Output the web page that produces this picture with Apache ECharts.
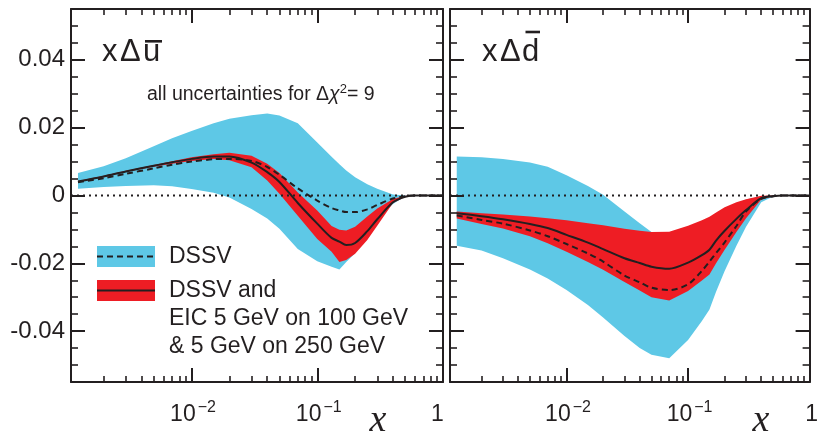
<!DOCTYPE html>
<html>
<head>
<meta charset="utf-8">
<script src="https://cdn.jsdelivr.net/npm/echarts@6/dist/echarts.min.js"></script>
<style>
  html, body { margin: 0; padding: 0; background: #ffffff; }
  #chart { width: 821px; height: 435px; }
</style>
</head>
<body>
<div id="chart"></div>
<script>
// Momentum fraction grid shared by every curve and band
const xGrid = [0.00125, 0.002, 0.003, 0.005, 0.007, 0.01, 0.015, 0.02, 0.03, 0.04, 0.05, 0.07,
               0.1, 0.13, 0.15, 0.17, 0.2, 0.25, 0.3, 0.4, 0.5, 0.6, 0.8, 1];

// x*Delta(u-bar): DSSV band + central value (dashed)
const ubarDssvHi = [0.0066, 0.0086, 0.0110, 0.0145, 0.0169, 0.0190, 0.0213, 0.0226, 0.0237, 0.0242, 0.0236, 0.0213,
                    0.0156, 0.0114, 0.0092, 0.0074, 0.0054, 0.0033, 0.0020, 0.0003, 0, 0, 0, 0];
const ubarDssvLo = [0.0020, 0.0025, 0.0028, 0.0030, 0.0027, 0.0019, 0.0008, -0.0006, -0.0040, -0.0068, -0.0098, -0.0158,
                    -0.0194, -0.0210, -0.0218, -0.0196, -0.0170, -0.0113, -0.0073, -0.0025, -0.0003, 0, 0, 0];
const ubarDssv   = [0.0039, 0.0051, 0.0064, 0.0080, 0.0091, 0.0100, 0.0107, 0.0108, 0.0102, 0.0084, 0.0061, 0.0021,
                    -0.0015, -0.0037, -0.0044, -0.0049, -0.0049, -0.0041, -0.0028, -0.0009, -0.0002, 0, 0, 0];
// x*Delta(u-bar): DSSV + EIC band + central value (solid)
const ubarEicHi  = [0.0043, 0.0058, 0.0073, 0.0090, 0.0101, 0.0113, 0.0122, 0.0126, 0.0117, 0.0094, 0.0066, 0.0009,
                    -0.0044, -0.0090, -0.0101, -0.0103, -0.0092, -0.0062, -0.0038, -0.0010, -0.0001, 0, 0, 0];
const ubarEicLo  = [0.0039, 0.0054, 0.0069, 0.0085, 0.0094, 0.0102, 0.0108, 0.0104, 0.0083, 0.0044, 0.0005, -0.0060,
                    -0.0128, -0.0166, -0.0196, -0.0190, -0.0172, -0.0131, -0.0089, -0.0022, -0.0004, 0, 0, 0];
const ubarEic    = [0.0041, 0.0056, 0.0071, 0.0088, 0.0098, 0.0108, 0.0115, 0.0115, 0.0097, 0.0069, 0.0040, -0.0022,
                    -0.0083, -0.0125, -0.0136, -0.0146, -0.0140, -0.0105, -0.0070, -0.0020, -0.0004, 0, 0, 0];

// x*Delta(d-bar): DSSV band + central value (dashed)
const dbarDssvHi = [0.0115, 0.0113, 0.0108, 0.0097, 0.0085, 0.0060, 0.0028, 0.0002, -0.0047, -0.0082, -0.0108, -0.0118,
                    -0.0100, -0.0085, -0.0075, -0.0062, -0.0045, -0.0024, -0.0012, -0.0002, 0, 0, 0, 0];
const dbarDssvLo = [-0.0148, -0.0162, -0.0185, -0.0218, -0.0245, -0.0279, -0.0323, -0.0360, -0.0414, -0.0450, -0.0470, -0.0480,
                    -0.0426, -0.0370, -0.0336, -0.0284, -0.0223, -0.0148, -0.0092, -0.0020, -0.0003, 0, 0, 0];
const dbarDssv   = [-0.0059, -0.0072, -0.0083, -0.0103, -0.0120, -0.0143, -0.0171, -0.0195, -0.0236, -0.0256, -0.0272, -0.0279,
                    -0.0262, -0.0222, -0.0195, -0.0170, -0.0138, -0.0090, -0.0047, -0.0010, -0.0002, 0, 0, 0];
// x*Delta(d-bar): DSSV + EIC band + central value (solid)
const dbarEicHi  = [-0.0047, -0.0052, -0.0056, -0.0062, -0.0067, -0.0073, -0.0082, -0.0088, -0.0098, -0.0104, -0.0108, -0.0107,
                    -0.0089, -0.0073, -0.0063, -0.0050, -0.0035, -0.0020, -0.0011, -0.0001, 0, 0, 0, 0];
const dbarEicLo  = [-0.0068, -0.0084, -0.0097, -0.0120, -0.0141, -0.0166, -0.0196, -0.0219, -0.0255, -0.0280, -0.0300, -0.0310,
                    -0.0282, -0.0251, -0.0233, -0.0200, -0.0160, -0.0108, -0.0067, -0.0012, -0.0002, 0, 0, 0];
const dbarEic    = [-0.0052, -0.0061, -0.0070, -0.0084, -0.0096, -0.0116, -0.0139, -0.0158, -0.0185, -0.0199, -0.0210, -0.0216,
                    -0.0198, -0.0176, -0.0160, -0.0133, -0.0104, -0.0069, -0.0043, -0.0008, -0.0002, 0, 0, 0];

// Axis ticks and labels
const X_MIN = 0.0011;
const xMajorTicks = [0.01, 0.1, 1];
const xMinorTicks = [0.002, 0.003, 0.004, 0.005, 0.006, 0.007, 0.008, 0.009,
                     0.02, 0.03, 0.04, 0.05, 0.06, 0.07, 0.08, 0.09,
                     0.2, 0.3, 0.4, 0.5, 0.6, 0.7, 0.8, 0.9];
const yMajorTicks = [-0.04, -0.02, 0, 0.02, 0.04];
const yMinorTicks = [-0.05, -0.045, -0.035, -0.03, -0.025, -0.015, -0.01, -0.005,
                     0.005, 0.01, 0.015, 0.025, 0.03, 0.035, 0.045, 0.05];
const Y_MIN = -0.055, Y_MAX = 0.055;

const BLUE = '#5ec8e6';
const RED = '#ee1d24';
const INK = '#231f20';
const SANS = '"Liberation Sans", Arial, Helvetica, sans-serif';
const SERIF = '"Liberation Serif", "Times New Roman", serif';

function xLabelFormatter(v) {
  if (Math.abs(v - 1) < 1e-9) return '{one|1}';
  const e = Math.round(Math.log10(v));
  return '{b|10}{s|\u2212' + (-e) + '}';
}

function xAxesFor(gi) {
  const base = { type: 'log', logBase: 10, gridIndex: gi, min: X_MIN, max: 1, z: 10,
                 splitLine: { show: false }, minorTick: { show: false } };
  const line = { show: true, onZero: false, lineStyle: { color: INK, width: 2 } };
  const major = { show: true, inside: true, length: 14, customValues: xMajorTicks, lineStyle: { color: INK, width: 2 } };
  const minor = { show: true, inside: true, length: 6, customValues: xMinorTicks, lineStyle: { color: INK, width: 1.6 } };
  return [
    Object.assign({}, base, {
      position: 'bottom', axisLine: line, axisTick: major,
      axisLabel: {
        show: true, customValues: xMajorTicks, margin: 18, formatter: xLabelFormatter,
        rich: {
          b: { fontSize: 23, lineHeight: 26, verticalAlign: 'bottom', fontFamily: SANS, color: INK, padding: [0, 0, 0, 3] },
          s: { fontSize: 16, lineHeight: 16, verticalAlign: 'top', fontFamily: SANS, color: INK, padding: [0, 0, 0, 2] },
          one: { fontSize: 23, lineHeight: 26, verticalAlign: 'bottom', fontFamily: SANS, color: INK,
                 padding: gi === 0 ? [0, 11, 0, 0] : [0, 0, 0, 4] }
        }
      }
    }),
    Object.assign({}, base, { position: 'bottom', axisLine: { show: false, onZero: false }, axisTick: minor, axisLabel: { show: false } }),
    Object.assign({}, base, { position: 'top', axisLine: line, axisTick: major, axisLabel: { show: false } }),
    Object.assign({}, base, { position: 'top', axisLine: { show: false, onZero: false }, axisTick: minor, axisLabel: { show: false } })
  ];
}

function yAxesFor(gi, withLabels) {
  const base = { type: 'value', gridIndex: gi, min: Y_MIN, max: Y_MAX, z: 10, splitLine: { show: false } };
  const line = { show: true, onZero: false, lineStyle: { color: INK, width: 2 } };
  const major = { show: true, inside: true, length: 14, customValues: yMajorTicks, lineStyle: { color: INK, width: 2 } };
  const minor = { show: true, inside: true, length: 7, customValues: yMinorTicks, lineStyle: { color: INK, width: 1.6 } };
  return [
    Object.assign({}, base, {
      position: 'left', axisLine: line, axisTick: major,
      axisLabel: withLabels ? {
        show: true, customValues: yMajorTicks, margin: 6, fontSize: 24, fontFamily: SANS, color: INK,
        formatter: v => (Math.abs(v) < 1e-12 ? '0' : v.toFixed(2))
      } : { show: false }
    }),
    Object.assign({}, base, { position: 'left', axisLine: { show: false, onZero: false }, axisTick: minor, axisLabel: { show: false } }),
    Object.assign({}, base, { position: 'right', axisLine: line, axisTick: major, axisLabel: { show: false } }),
    Object.assign({}, base, { position: 'right', axisLine: { show: false, onZero: false }, axisTick: minor, axisLabel: { show: false } })
  ];
}

// Uncertainty band: polygon through the upper edge, back along the lower edge
function bandSeries(gi, lo, hi, color, z) {
  return {
    type: 'custom', xAxisIndex: gi * 4, yAxisIndex: gi * 4, z: z, silent: true, animation: false,
    data: xGrid.map((x, i) => [x, lo[i], hi[i]]),
    encode: { x: 0, y: [1, 2] },
    renderItem: function (params, api) {
      if (params.dataIndex !== 0) return null;
      const pts = [];
      for (let i = 0; i < xGrid.length; i++) pts.push(api.coord([xGrid[i], hi[i]]));
      for (let i = xGrid.length - 1; i >= 0; i--) pts.push(api.coord([xGrid[i], lo[i]]));
      return { type: 'polygon', shape: { points: pts }, style: { fill: color } };
    }
  };
}

function curveSeries(gi, ys, dashed, z) {
  return {
    type: 'line', xAxisIndex: gi * 4, yAxisIndex: gi * 4, z: z, silent: true, animation: false,
    data: xGrid.map((x, i) => [x, ys[i]]),
    showSymbol: false, symbol: 'none', smooth: 0.3,
    lineStyle: { color: INK, width: 2, type: dashed ? [6, 4] : 'solid' }
  };
}

function zeroSeries(gi) {
  return {
    type: 'line', xAxisIndex: gi * 4, yAxisIndex: gi * 4, z: 6, silent: true, animation: false,
    data: [[X_MIN, 0], [1, 0]], showSymbol: false, symbol: 'none',
    lineStyle: { color: INK, width: 2, type: [2, 4] }
  };
}

const chart = echarts.init(document.getElementById('chart'), null, { renderer: 'canvas' });

const TITLE_FONT = '31px ' + SANS;

const option = {
  animation: false,
  backgroundColor: '#ffffff',
  grid: [
    { left: 71, top: 9, width: 372, height: 373 },
    { left: 450, top: 9, width: 370, height: 373 }
  ],
  xAxis: xAxesFor(0).concat(xAxesFor(1)),
  yAxis: yAxesFor(0, true).concat(yAxesFor(1, false)),
  series: [
    bandSeries(0, ubarDssvLo, ubarDssvHi, BLUE, 1),
    bandSeries(0, ubarEicLo, ubarEicHi, RED, 2),
    curveSeries(0, ubarDssv, true, 3),
    curveSeries(0, ubarEic, false, 4),
    zeroSeries(0),
    bandSeries(1, dbarDssvLo, dbarDssvHi, BLUE, 1),
    bandSeries(1, dbarEicLo, dbarEicHi, RED, 2),
    curveSeries(1, dbarDssv, true, 3),
    curveSeries(1, dbarEic, false, 4),
    zeroSeries(1)
  ],
  graphic: [
    // panel titles
    { type: 'text', x: 102, y: 52.5, z: 20, style: { text: 'x', font: TITLE_FONT, fill: INK, verticalAlign: 'middle' } },
    { type: 'text', x: 120, y: 52.5, z: 20, style: { text: '\u0394', font: TITLE_FONT, fill: INK, verticalAlign: 'middle' } },
    { type: 'text', x: 143, y: 52.5, z: 20, style: { text: 'u', font: TITLE_FONT, fill: INK, verticalAlign: 'middle' } },
    { type: 'rect', z: 20, shape: { x: 145, y: 40, width: 17, height: 2.6 }, style: { fill: INK } },
    { type: 'text', x: 482, y: 52.5, z: 20, style: { text: 'x', font: TITLE_FONT, fill: INK, verticalAlign: 'middle' } },
    { type: 'text', x: 500, y: 52.5, z: 20, style: { text: '\u0394', font: TITLE_FONT, fill: INK, verticalAlign: 'middle' } },
    { type: 'text', x: 522, y: 52.5, z: 20, style: { text: 'd', font: TITLE_FONT, fill: INK, verticalAlign: 'middle' } },
    { type: 'rect', z: 20, shape: { x: 525.5, y: 30.7, width: 14.5, height: 2.6 }, style: { fill: INK } },
    // note on uncertainties
    {
      type: 'text', x: 147, y: 94, z: 20,
      style: {
        text: '{a|all uncertainties for \u0394}{c|\u03c7}{s|2}{a|= 9}',
        verticalAlign: 'middle',
        rich: {
          a: { fontSize: 19.5, lineHeight: 22, verticalAlign: 'bottom', fontFamily: SANS, fill: INK },
          c: { fontSize: 19.5, lineHeight: 22, verticalAlign: 'bottom', fontFamily: SANS, fontStyle: 'italic', fill: INK },
          s: { fontSize: 13, lineHeight: 3, verticalAlign: 'top', fontFamily: SANS, fill: INK }
        }
      }
    },
    // x-axis titles
    { type: 'text', x: 378, y: 421, z: 20, style: { text: 'x', font: 'italic 38px ' + SERIF, fill: INK, align: 'center', verticalAlign: 'middle' } },
    { type: 'text', x: 761, y: 421, z: 20, style: { text: 'x', font: 'italic 38px ' + SERIF, fill: INK, align: 'center', verticalAlign: 'middle' } },
    // legend
    { type: 'rect', z: 20, shape: { x: 97, y: 246, width: 58, height: 21 }, style: { fill: BLUE } },
    { type: 'line', z: 21, shape: { x1: 97, y1: 256.5, x2: 155, y2: 256.5 }, style: { stroke: INK, lineWidth: 2, lineDash: [6, 4] } },
    { type: 'rect', z: 20, shape: { x: 97, y: 280, width: 58, height: 21 }, style: { fill: RED } },
    { type: 'line', z: 21, shape: { x1: 97, y1: 290.5, x2: 155, y2: 290.5 }, style: { stroke: INK, lineWidth: 2 } },
    { type: 'text', x: 169, y: 257, z: 20, style: { text: 'DSSV', font: '23px ' + SANS, fill: INK, verticalAlign: 'middle' } },
    { type: 'text', x: 169, y: 291, z: 20, style: { text: 'DSSV and', font: '23px ' + SANS, fill: INK, verticalAlign: 'middle' } },
    { type: 'text', x: 169, y: 319, z: 20, style: { text: 'EIC 5 GeV on 100 GeV', font: '23px ' + SANS, fill: INK, verticalAlign: 'middle' } },
    { type: 'text', x: 169, y: 347, z: 20, style: { text: '& 5 GeV on 250 GeV', font: '23px ' + SANS, fill: INK, verticalAlign: 'middle' } }
  ]
};

chart.setOption(option);
</script>
</body>
</html>
